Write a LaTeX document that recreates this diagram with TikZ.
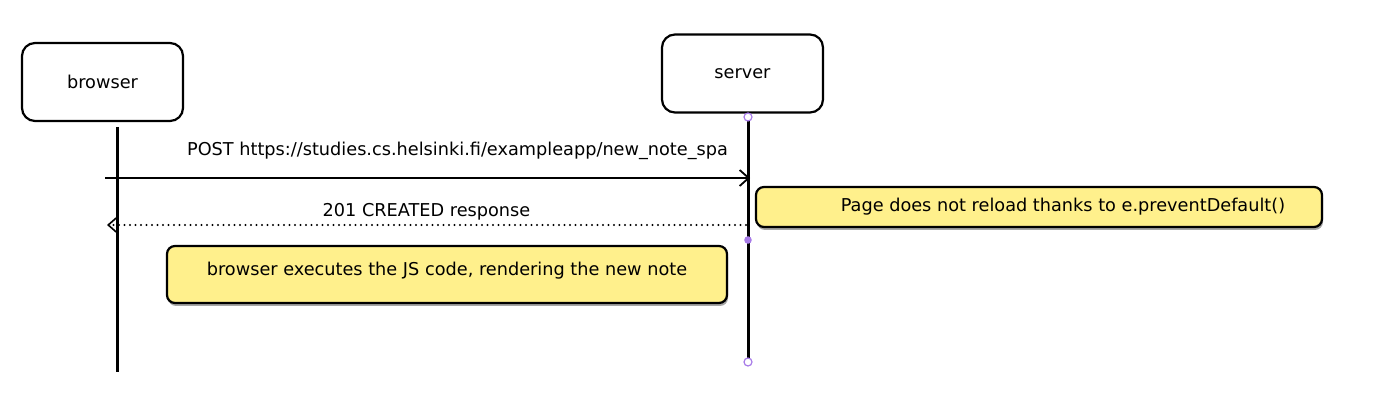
\documentclass[tikz,border=0pt]{standalone}
\usepackage{fontspec}
\setmainfont{DejaVu Sans}
\usepackage{xcolor}
\usetikzlibrary{arrows.meta}
\usetikzlibrary{shadows}
\definecolor{noteyellow}{HTML}{FFF08C}
\definecolor{lifeend}{HTML}{A77BE8}

\begin{document}
\begin{tikzpicture}[x=1pt,y=-1pt,
  every node/.style={font=\fontsize{17.7}{20}\selectfont},
  actor/.style={draw,line width=2.2pt,rounded corners=13pt,minimum width=161pt,minimum height=78pt},
  notebox/.style={draw,line width=2.2pt,rounded corners=8pt,fill=noteyellow,
    drop shadow={shadow xshift=1pt,shadow yshift=-3pt,fill=black!35,opacity=1}},
  lifeline/.style={line width=3pt},
  msg/.style={line width=2.2pt,-{Straight Barb[length=9pt,width=16pt,line width=1.8pt]}},
  reply/.style={line width=2.4pt,line cap=round,dash pattern=on 0pt off 5.5pt,
    -{Straight Barb[length=8pt,width=14pt,line width=1.6pt]}},
  endpt/.style={circle,draw=lifeend,fill=white,line width=1.2pt,inner sep=0pt,minimum size=8pt}]
\useasboundingbox (0,0) rectangle (1392,403);
% actors
\node[actor] (browser) at (102.5,82) {browser};
\node[actor] (server) at (742.5,73.5) {server};
% lifelines
\coordinate (btop) at (117,127);
\coordinate (bbot) at (117,372);
\coordinate (stop) at (748,117);
\coordinate (sbot) at (748,362);
\draw[lifeline] (btop) -- (bbot);
\draw[lifeline] (stop) -- (sbot);
\node[endpt] (stopc) at (stop) {};
\node[endpt] (sbotc) at (sbot) {};
\fill[lifeend] (748,240) circle (3.8pt);
% messages
\coordinate (postfrom) at (105,178);
\coordinate (postto) at (750,178);
\draw[msg] (postfrom) -- (postto)
  node[midway,above=14pt,xshift=30pt] (postlbl) {POST https://studies.cs.helsinki.fi/exampleapp/new\_note\_spa};
\coordinate (replyfrom) at (746,225);
\coordinate (replyto) at (107,225);
\draw[reply] (replyfrom) -- (replyto)
  node[pos=0.5,above=0pt] (replylbl) {201 CREATED response};
% notes
\node[notebox,minimum width=566pt,minimum height=40pt] (note1) at (1039,207)
  {\hspace*{48pt}Page does not reload thanks to e.preventDefault()};
\node[notebox,minimum width=560pt,minimum height=57pt,text depth=11pt] (note2) at (447,274.5)
  {browser executes the JS code, rendering the new note};
\end{tikzpicture}
\end{document}
